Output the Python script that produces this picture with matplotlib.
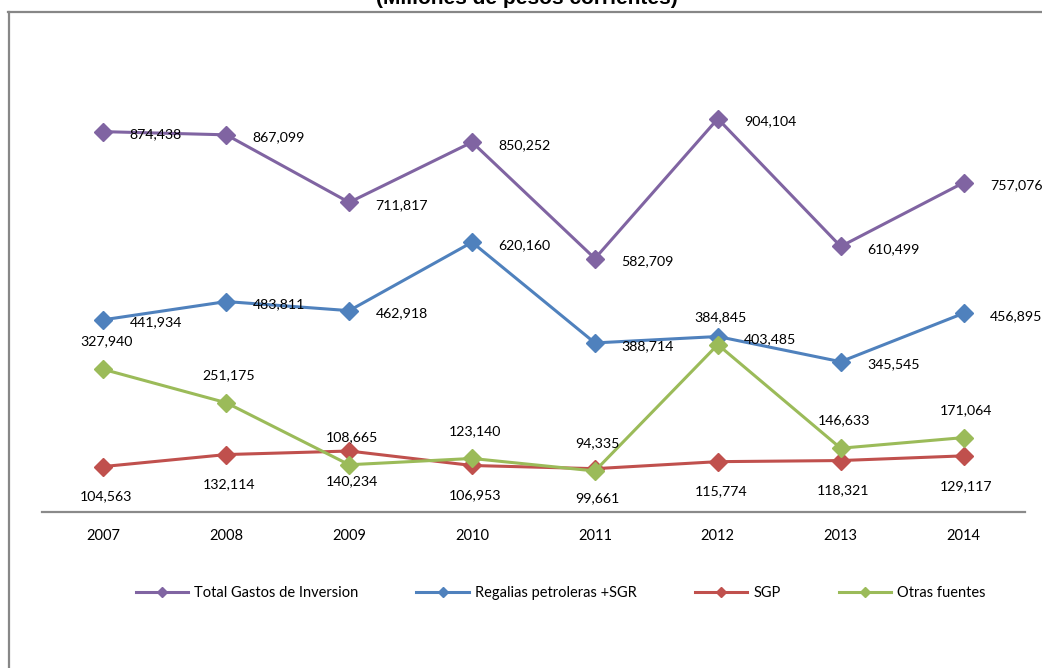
import numpy as np
import matplotlib.pyplot as plt
from matplotlib.lines import Line2D

plt.rcParams['font.family'] = ['Lato', 'DejaVu Sans']

# Inversion por fuente de financiacion, millones de pesos corrientes
years = ['2007', '2008', '2009', '2010', '2011', '2012', '2013', '2014']
total = [874438, 867099, 711817, 850252, 582709, 904104, 610499, 757076]
regalias = [441934, 483811, 462918, 620160, 388714, 403485, 345545, 456895]
sgp = [104563, 132114, 140234, 106953, 99661, 115774, 118321, 129117]
otras = [327940, 251175, 108665, 123140, 94335, 384845, 146633, 171064]

series = [
    ('Total Gastos de Inversion', total, '#8064A2', 'right'),
    ('Regalias petroleras +SGR', regalias, '#4F81BD', 'right'),
    ('SGP', sgp, '#C0504D', 'below'),
    ('Otras fuentes', otras, '#9BBB59', 'above'),
]

fig = plt.figure(figsize=(10.42, 6.68), dpi=100)
ax = fig.add_axes([0.0403, 0.2335, 0.9434, 0.6512])

x = np.arange(len(years))
for name, vals, color, pos in series:
    ax.plot(x, vals, color=color, lw=2.2, marker='D', ms=9.5,
            mec=color, mfc=color, label=name, clip_on=False)

# etiquetas de datos
for name, vals, color, pos in series:
    for xi, v in zip(x, vals):
        txt = f'{v:,}'
        if pos == 'right':
            ax.annotate(txt, (xi, v), xytext=(19, -2), textcoords='offset points',
                        ha='left', va='center', fontsize=10.2, zorder=5)
        elif pos == 'below':
            ax.annotate(txt, (xi, v), xytext=(2, -21.5), textcoords='offset points',
                        ha='center', va='center', fontsize=10.2, zorder=5)
        else:
            ax.annotate(txt, (xi, v), xytext=(2, 20), textcoords='offset points',
                        ha='center', va='center', fontsize=10.2, zorder=5)

ax.set_xlim(-0.5, len(years) - 0.5)
ax.set_ylim(0, 1000000)
ax.set_xticks(x)
ax.set_xticklabels(years, fontsize=10.5)
ax.tick_params(axis='x', length=0, pad=12)
ax.set_yticks([])
for s in ['top', 'right', 'left']:
    ax.spines[s].set_visible(False)
ax.spines['bottom'].set_color('#8a8a8a')
ax.spines['bottom'].set_linewidth(1.6)

fig.legend(loc='center', bbox_to_anchor=(0.538, 1 - 593 / 668), ncol=4,
           frameon=False, fontsize=10.5, handlelength=3.6, handletextpad=0.4,
           columnspacing=4.0, markerscale=0.55)

# marco exterior del grafico
fig.add_artist(Line2D([8 / 1042, 1], [1 - 12 / 668] * 2, color='#878787', lw=1.6))
fig.add_artist(Line2D([9 / 1042] * 2, [0, 1 - 12 / 668], color='#878787', lw=1.6))

fig.text(0.5058, 1 - 4 / 668, '(Millones de pesos corrientes)', ha='center',
         va='baseline', fontsize=15, fontweight='bold', family='Liberation Sans')

fig.savefig('out.png', dpi=100)
